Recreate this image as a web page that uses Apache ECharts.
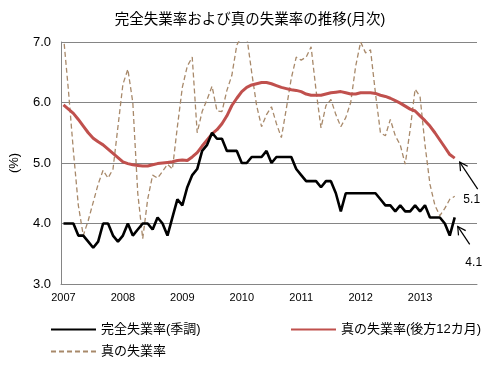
<!DOCTYPE html>
<html>
<head>
<meta charset="utf-8">
<script src="https://cdn.jsdelivr.net/npm/echarts@6/dist/echarts.min.js"></script>
<style>
html, body { margin: 0; padding: 0; background: #fff; }
#chart { width: 500px; height: 376px; }
</style>
</head>
<body>
<div id="chart"></div>
<script>
// 月次データ 2007年1月〜2013年8月（軸は2013年12月まで）
const years = [2007, 2008, 2009, 2010, 2011, 2012, 2013];
const yTicks = [3, 4, 5, 6, 7];

// 完全失業率（季調）
const unempSA = [
    4.0, 4.0, 4.0, 3.8, 3.8, 3.7, 3.6, 3.7, 4.0, 4.0, 3.8, 3.7,
    3.8, 4.0, 3.8, 3.9, 4.0, 4.0, 3.9, 4.1, 4.0, 3.8, 4.1, 4.4,
    4.3, 4.6, 4.8, 4.9, 5.2, 5.3, 5.5, 5.4, 5.4, 5.2, 5.2, 5.2,
    5.0, 5.0, 5.1, 5.1, 5.1, 5.2, 5.0, 5.1, 5.1, 5.1, 5.1, 4.9,
    4.8, 4.7, 4.7, 4.7, 4.6, 4.7, 4.7, 4.5, 4.2, 4.5, 4.5, 4.5,
    4.5, 4.5, 4.5, 4.5, 4.4, 4.3, 4.3, 4.2, 4.3, 4.2, 4.2, 4.3,
    4.2, 4.3, 4.1, 4.1, 4.1, 4.0, 3.8, 4.1
];
// 真の失業率（後方12カ月）
const trueRate12 = [
    5.96, 5.89, 5.82, 5.72, 5.61, 5.50, 5.41, 5.35, 5.30, 5.23, 5.16, 5.09,
    5.02, 4.99, 4.97, 4.96, 4.95, 4.95, 4.97, 4.99, 5.00, 5.01, 5.02, 5.04,
    5.05, 5.04, 5.10, 5.17, 5.28, 5.38, 5.48, 5.55, 5.65, 5.78, 5.95, 6.07,
    6.18, 6.25, 6.29, 6.31, 6.33, 6.33, 6.31, 6.28, 6.25, 6.23, 6.21, 6.20,
    6.18, 6.14, 6.12, 6.12, 6.12, 6.14, 6.16, 6.17, 6.18, 6.16, 6.14, 6.14,
    6.16, 6.16, 6.16, 6.15, 6.12, 6.10, 6.07, 6.03, 5.99, 5.94, 5.89, 5.86,
    5.78, 5.70, 5.61, 5.50, 5.38, 5.26, 5.14, 5.08
];
// 真の失業率
const trueRate = [
    7.1, 6.2, 5.2, 4.3, 3.8, 4.05, 4.35, 4.65, 4.88, 4.75, 4.9, 5.6,
    6.3, 6.55, 6.0, 4.5, 3.75, 4.4, 4.8, 4.75, 4.86, 4.98, 4.9, 5.6,
    6.25, 6.6, 6.75, 5.5, 5.85, 6.05, 6.27, 5.86, 5.85, 6.2, 6.45, 6.95,
    7.1, 7.1, 6.5, 5.95, 5.6, 5.8, 5.93, 5.65, 5.42, 5.9, 6.4, 6.75,
    6.7, 6.75, 6.92, 6.2, 5.58, 5.95, 6.05, 5.8, 5.6, 5.75, 6.0, 6.6,
    7.0, 6.82, 6.87, 6.15, 5.5, 5.45, 5.72, 5.45, 5.3, 4.98, 5.55, 6.22,
    6.1, 5.3, 4.65, 4.3, 4.13, 4.25, 4.4, 4.45
];

const months = [];
years.forEach(function (y) {
    for (let m = 1; m <= 12; m++) months.push(y + '/' + m);
});

const FONT = '"Liberation Sans", "Noto Sans CJK JP", sans-serif';
const GRAY = '#858585';

const chart = echarts.init(document.getElementById('chart'));
const option = {
    animation: false,
    textStyle: { fontFamily: FONT },
    title: {
        text: '完全失業率および真の失業率の推移(月次)',
        left: 'center',
        top: 8,
        textStyle: { fontSize: 14.5, fontWeight: 'normal', color: '#000', fontFamily: FONT }
    },
    grid: { left: 58, right: 23, top: 42, bottom: 92 },
    legend: [{
        data: ['完全失業率(季調)'],
        left: 45, top: 318
    }, {
        data: ['真の失業率(後方12カ月)'],
        left: 285, top: 318
    }, {
        data: ['真の失業率'],
        left: 45, top: 340
    }].map(function (l) {
        return Object.assign(l, {
            itemWidth: 45, itemHeight: 14, itemGap: 5,
            itemStyle: { opacity: 0 },
            textStyle: { fontSize: 13, color: '#000', fontFamily: FONT }
        });
    }),
    xAxis: {
        type: 'category',
        boundaryGap: true,
        data: months,
        axisLine: { lineStyle: { color: GRAY, width: 1 } },
        axisTick: {
            length: 4,
            lineStyle: { color: GRAY },
            interval: function (idx) { return idx % 6 === 0; }
        },
        axisLabel: {
            interval: function (idx) { return idx % 12 === 0; },
            formatter: function (v) { return v.split('/')[0]; },
            fontSize: 11, color: '#000', margin: 8
        }
    },
    yAxis: {
        type: 'value',
        min: yTicks[0],
        max: yTicks[yTicks.length - 1],
        interval: 1,
        name: '(%)',
        nameLocation: 'middle',
        nameRotate: 90,
        nameGap: 40,
        nameTextStyle: { fontSize: 13, color: '#000' },
        axisLine: { show: true, lineStyle: { color: GRAY } },
        axisTick: { show: false },
        axisLabel: {
            formatter: function (v) { return v.toFixed(1); },
            fontSize: 13, color: '#000', margin: 10
        },
        splitLine: { lineStyle: { color: GRAY, width: 1 } }
    },
    series: [{
        name: '真の失業率',
        type: 'line',
        data: trueRate,
        symbol: 'none',
        lineStyle: { color: '#a8896a', width: 1.3, type: [5, 3] },
        itemStyle: { color: '#a8896a' },
        z: 1
    }, {
        name: '真の失業率(後方12カ月)',
        type: 'line',
        data: trueRate12,
        symbol: 'none',
        lineStyle: { color: '#c0504d', width: 3 },
        itemStyle: { color: '#c0504d' },
        z: 2
    }, {
        name: '完全失業率(季調)',
        type: 'line',
        data: unempSA,
        symbol: 'none',
        lineStyle: { color: '#000', width: 2.6 },
        itemStyle: { color: '#000' },
        z: 3
    }]
};
chart.setOption(option);

// 最終値への矢印と注記
function arrowGraphics(head, tail, label, labelPos) {
    const ang = Math.atan2(tail[1] - head[1], tail[0] - head[0]);
    const len = 9, spread = 0.5;
    const w1 = [head[0] + len * Math.cos(ang + spread), head[1] + len * Math.sin(ang + spread)];
    const w2 = [head[0] + len * Math.cos(ang - spread), head[1] + len * Math.sin(ang - spread)];
    return [{
        type: 'polyline',
        shape: { points: [w1, head, w2] },
        style: { stroke: '#000', lineWidth: 1.2, fill: null }
    }, {
        type: 'line',
        shape: { x1: head[0], y1: head[1], x2: tail[0], y2: tail[1] },
        style: { stroke: '#000', lineWidth: 1.2 }
    }, {
        type: 'text',
        x: labelPos[0], y: labelPos[1],
        style: {
            text: label, fontSize: 12, fill: '#000', fontFamily: FONT,
            align: 'center', verticalAlign: 'middle'
        }
    }];
}

const lastIdx = unempSA.length - 1;
const pRed = chart.convertToPixel({ xAxisIndex: 0, yAxisIndex: 0 }, [lastIdx, trueRate12[lastIdx]]);
const pBlack = chart.convertToPixel({ xAxisIndex: 0, yAxisIndex: 0 }, [lastIdx, unempSA[lastIdx]]);
const hRed = [pRed[0] + 5, pRed[1] + 4];
const hBlack = [pBlack[0] + 3, pBlack[1] + 9];
chart.setOption({
    graphic: arrowGraphics(hRed, [hRed[0] + 18, hRed[1] + 27], '5.1', [hRed[0] + 12, hRed[1] + 38])
        .concat(arrowGraphics(hBlack, [hBlack[0] + 12, hBlack[1] + 18], '4.1', [hBlack[0] + 16, hBlack[1] + 36]))
});
</script>
</body>
</html>
